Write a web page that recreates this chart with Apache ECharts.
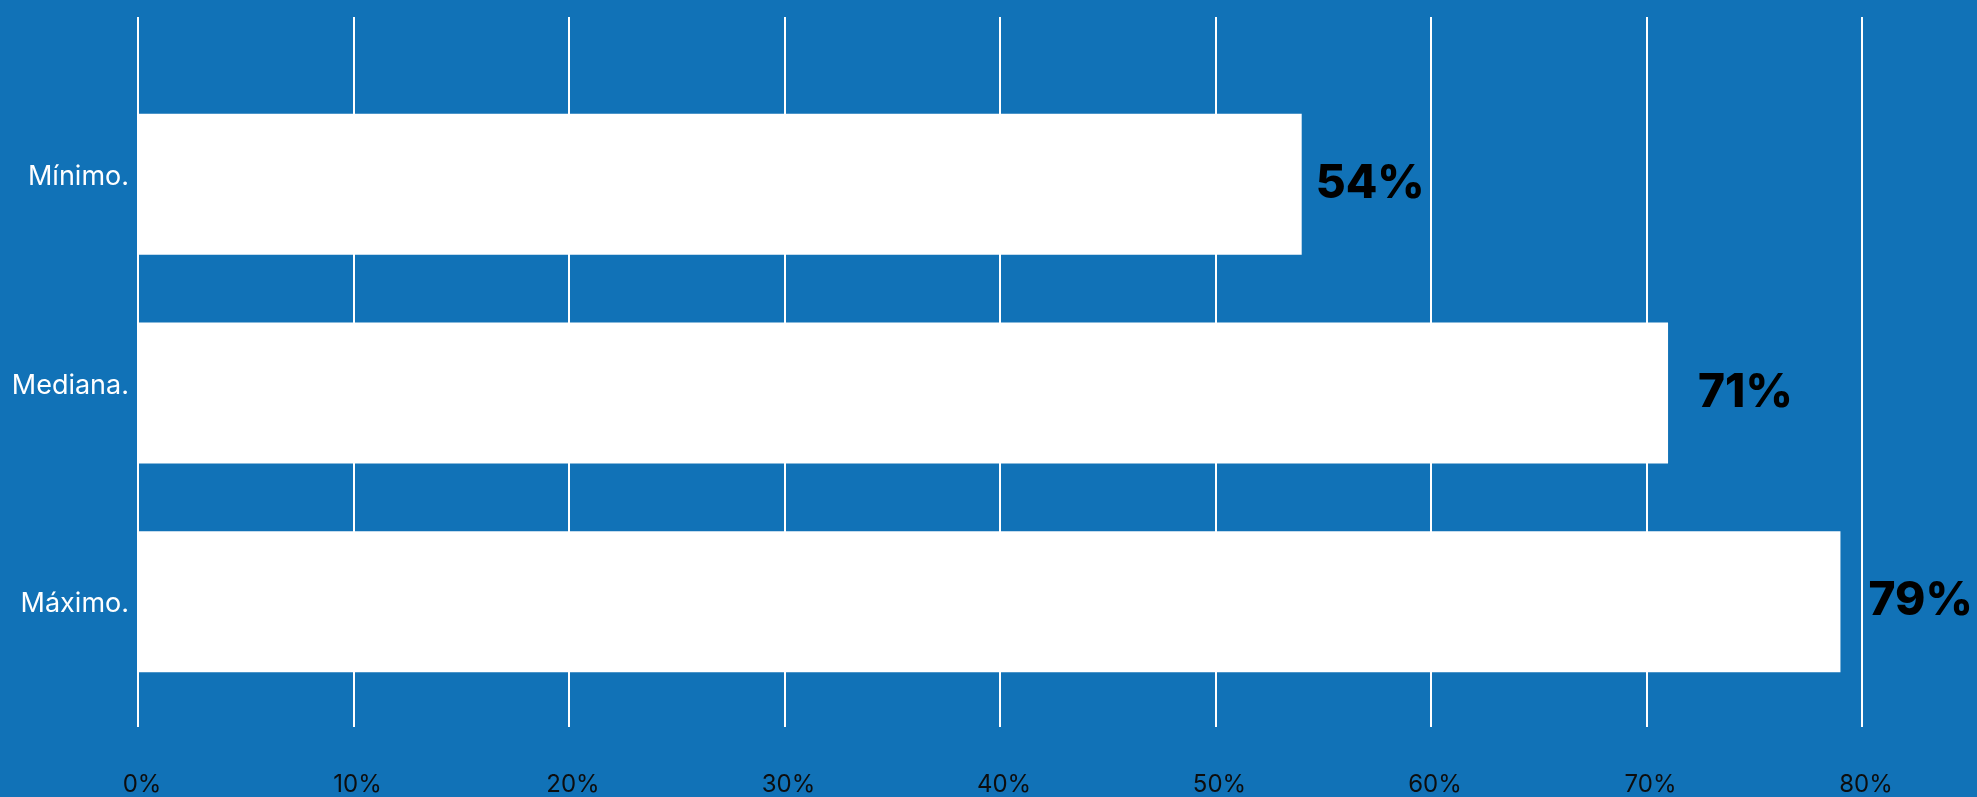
<!DOCTYPE html>
<html>
<head>
<meta charset="utf-8">
<script src="https://cdn.jsdelivr.net/npm/echarts@6/dist/echarts.min.js"></script>
<style>
  html, body { margin: 0; padding: 0; background: #1172b7; }
  #chart { width: 1977px; height: 797px; }
</style>
</head>
<body>
<div id="chart"></div>
<script>
// Share of the statistic, by summary measure
const categories = ['Mínimo.', 'Mediana.', 'Máximo.'];
const values = [54, 71, 79];
const xTicks = [0, 10, 20, 30, 40, 50, 60, 70, 80];

const FONT = 'Inter, "Open Sans", sans-serif';
const xMin = xTicks[0];
const xMax = xTicks[xTicks.length - 1];
const step = xTicks[1] - xTicks[0];

// gap between each bar end and its value label
const labelGap = [14, 30, 28];
// small vertical nudges for category names
const catPad = [[0, 0, 15, 0], [0, 0, 15, 0], [4, 0, 0, 0]];

const chart = echarts.init(document.getElementById('chart'), null, { renderer: 'canvas' });

const rich = {};
categories.forEach((c, i) => {
  rich['c' + i] = { fontFamily: FONT, fontSize: 27, color: '#ffffff', padding: catPad[i] };
});

chart.setOption({
  backgroundColor: '#1172b7',
  animation: false,
  grid: [
    // full-height frame for gridlines and percentage ticks
    { left: 138, right: 115, top: 17, bottom: 70, containLabel: false },
    // bar area
    { left: 138, right: 115, top: 80, height: 626, containLabel: false }
  ],
  xAxis: [
    {
      gridIndex: 0,
      type: 'value',
      min: xMin, max: xMax, interval: step,
      axisLine: { show: false },
      axisTick: { show: false },
      splitLine: { show: true, lineStyle: { color: '#ffffff', width: 2 } },
      axisLabel: {
        formatter: v => v + '%',
        fontFamily: FONT, fontSize: 24, color: '#0d0d0d',
        margin: 46, padding: [0, 0, 0, 8]
      }
    },
    {
      gridIndex: 1,
      type: 'value',
      min: xMin, max: xMax, interval: step,
      show: false
    }
  ],
  yAxis: [
    {
      gridIndex: 0,
      type: 'value',
      show: false
    },
    {
      gridIndex: 1,
      type: 'category',
      data: categories,
      inverse: true,
      axisLine: { show: false },
      axisTick: { show: false },
      splitLine: { show: false },
      axisLabel: {
        margin: 9,
        formatter: (v, i) => '{c' + i + '|' + v + '}',
        rich: rich
      }
    }
  ],
  series: [
    {
      type: 'bar',
      xAxisIndex: 1,
      yAxisIndex: 1,
      barWidth: 141,
      itemStyle: { color: '#ffffff' },
      data: values.map((v, i) => ({
        value: v,
        label: { distance: labelGap[i] }
      })),
      label: {
        show: true,
        position: 'right',
        formatter: p => p.value + '%',
        fontFamily: FONT,
        fontWeight: 800,
        fontSize: 46,
        color: '#000000'
      }
    }
  ]
});
</script>
</body>
</html>
